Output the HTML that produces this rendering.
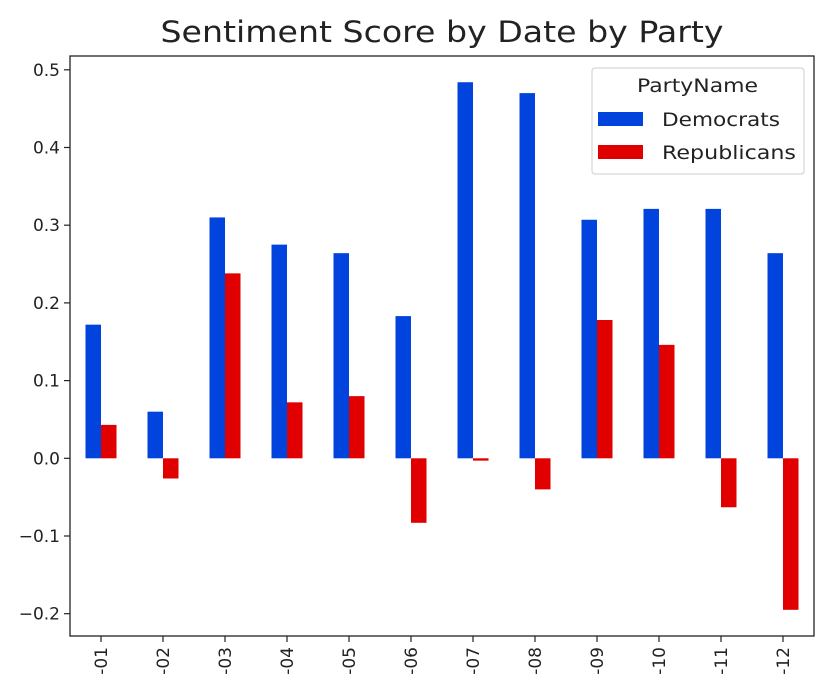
<!DOCTYPE html>
<html><head><meta charset="utf-8"><style>
body{margin:0;background:#fff;font-family:"DejaVu Sans","Liberation Sans",sans-serif}
</style></head><body>
<svg id="c" width="833" height="689" xmlns="http://www.w3.org/2000/svg"></svg>
<script>
const categories=["-01","-02","-03","-04","-05","-06","-07","-08","-09","-10","-11","-12"];
const democrats=[0.172,0.06,0.31,0.275,0.264,0.183,0.484,0.47,0.307,0.321,0.321,0.264];
const republicans=[0.043,-0.026,0.238,0.072,0.08,-0.083,-0.003,-0.04,0.178,0.146,-0.063,-0.195];
const yTicks=[-0.2,-0.1,0.0,0.1,0.2,0.3,0.4,0.5];
const yTickLabels=["\u22120.2","\u22120.1","0.0","0.1","0.2","0.3","0.4","0.5"];
const seriesNames=["Democrats","Republicans"];

const svg=document.getElementById('c');
const NS="http://www.w3.org/2000/svg";
const L=70,R=814,T=56,B=636;
const y0=458.3,pxPer=777;
function ys(v){return y0-v*pxPer;}
const step=(R-L)/categories.length;
function xs(i){return L+step*(i+0.5);}
function mk(t,a,txt){const e=document.createElementNS(NS,t);for(const k in a)e.setAttribute(k,a[k]);if(txt!==undefined)e.textContent=txt;svg.appendChild(e);return e;}

let t=mk('text',{x:442,y:42,'text-anchor':'middle','font-size':29,fill:'#222',textLength:563,lengthAdjust:'spacingAndGlyphs'},'Sentiment Score by Date by Party');



const bw=step*0.25;
const colors=["#0043dd","#e00000"];
[democrats,republicans].forEach((s,si)=>{
  s.forEach((v,i)=>{
    const x=xs(i)-bw+si*bw;
    const top=Math.min(ys(v),ys(0)),h=Math.abs(ys(v)-ys(0));
    const r=mk('rect',{x:x,y:top,width:bw,height:h,fill:colors[si]});
    
    
  });
});

const ax=mk('rect',{x:L,y:T,width:R-L,height:B-T,fill:'none',stroke:'#222','stroke-width':1.3});



yTicks.forEach((v,i)=>{
  const y=ys(v);
  mk('line',{x1:L-6,x2:L,y1:y,y2:y,stroke:'#222','stroke-width':1.2});
  const l=mk('text',{x:L-10,y:y+6,'text-anchor':'end','font-size':17,fill:'#222'},yTickLabels[i]);
  
  
});
categories.forEach((c,i)=>{
  const x=xs(i);
  mk('line',{x1:x,x2:x,y1:B,y2:B+6,stroke:'#222','stroke-width':1.2});
  const l=mk('text',{x:0,y:0,'text-anchor':'end','font-size':17,fill:'#222',transform:`translate(${x+6},${B+11}) rotate(-90)`},c);
  
  
});

const lg=mk('rect',{x:592,y:68,width:212,height:106,rx:3,fill:'#fff',stroke:'#ccc','stroke-width':1});


const lt=mk('text',{x:637,y:92,'font-size':19,fill:'#222',textLength:121,lengthAdjust:'spacingAndGlyphs'},'PartyName');


const legendWidths=[118,134];
seriesNames.forEach((n,i)=>{
  const y=112+i*33;
  const p=mk('rect',{x:598,y:y,width:45,height:14,fill:colors[i]});
  
  
  const e=mk('text',{x:662,y:y+14,'font-size':19,fill:'#222',textLength:legendWidths[i],lengthAdjust:'spacingAndGlyphs'},n);
  
  
});
</script>
</body></html>
